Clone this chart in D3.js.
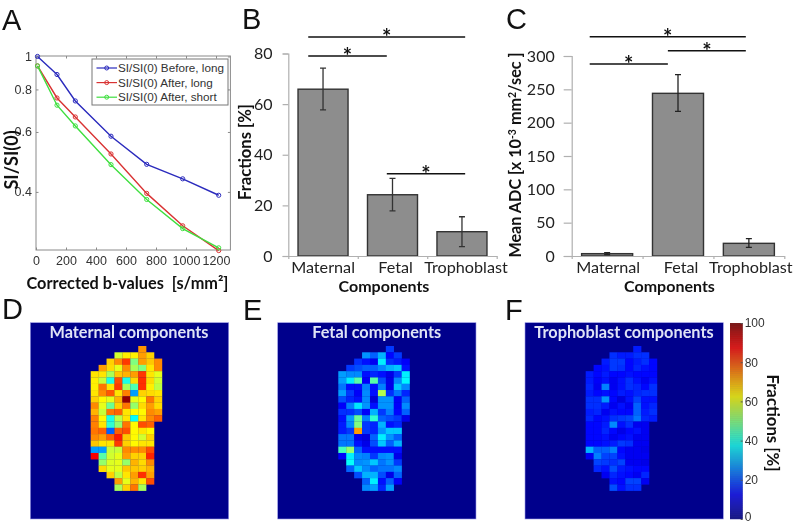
<!DOCTYPE html>
<html><head><meta charset="utf-8">
<script src="https://cdnjs.cloudflare.com/ajax/libs/d3/7.8.5/d3.min.js"></script>
<style>
html,body{margin:0;padding:0;background:#fff}
svg{display:block;filter:blur(0.35px)}
text{font-family:Lato,"Open Sans",sans-serif;white-space:pre}
.ar{font-family:"Liberation Sans",Arial,sans-serif}
</style></head><body><svg id="c" width="794" height="525"></svg>
<script>
// ---- Panel A
const bValues=[10,140,262,500,738,978,1218];
const lineNames=["SI/SI(0) Before, long","SI/SI(0) After, long","SI/SI(0) After, short"];
const siBefore=[1.0,0.885,0.74,0.583,0.482,0.437,0.391];
const siAfterLong=[0.938,0.755,0.664,0.517,0.396,0.318,0.269];
const siAfterShort=[0.938,0.719,0.625,0.481,0.38,0.312,0.274];
const xTicksA=[0,200,400,600,800,1000,1200];
const yTicksA=[0.4,0.6,0.8,1];
// ---- Panels B, C
const categories=["Maternal","Fetal","Trophoblast"];
const fractions=[65.9,24.2,9.6];
const fractionsLo=[57.7,17.8,3.7];
const fractionsHi=[74.2,30.7,15.5];
const adc=[3.5,244,19];
const adcLo=[2,217,13];
const adcHi=[5,272,26];
const sigB=[[0.287,2.546,86.5],[0.287,1.418,79],[1.418,2.546,32.5]];
const sigC=[[0.254,2.457,329],[1.357,2.457,308],[0.254,1.357,288]];
// ---- Panels D, E, F (rows of the mask; null = outside the placenta)
const _=null;
const maternal=[
[_,_,_,_,_,_,73,_,_],
[_,_,_,58,64,64,72,67,_],
[_,_,67,74,82,50,72,68,74],
[_,72,66,60,74,54,50,65,74],
[65,65,54,68,70,72,82,65,60],
[64,57,40,80,40,66,83,66,58],
[64,76,65,82,54,45,83,64,56],
[65,74,79,65,75,28,67,66,65],
[67,63,60,70,98,60,63,76,67],
[74,60,48,67,76,52,66,72,66],
[70,57,76,78,65,63,63,74,72],
[75,63,40,56,65,38,65,74,78],
[75,65,42,52,76,63,80,78,_],
[76,78,22,78,80,63,65,63,_],
[74,72,78,85,68,63,58,67,_],
[68,65,65,82,67,63,65,65,_],
[28,28,57,57,74,74,74,80,_],
[88,46,58,60,72,67,67,84,_],
[_,52,59,60,52,70,66,74,_],
[_,66,60,60,68,68,67,70,_],
[_,_,67,56,65,72,83,72,_],
[_,_,_,72,60,70,65,80,_],
[_,_,_,54,67,76,54,_,_]];
const fetal=[
[_,_,_,_,_,_,18,_,_],
[_,_,_,27,22,30,13,18,_],
[_,_,17,14,11,36,17,15,12],
[_,18,20,22,22,26,30,32,14],
[28,26,26,14,16,14,10,18,36],
[28,36,46,12,46,20,10,26,37],
[24,14,14,25,14,25,10,32,26],
[28,18,12,26,14,55,17,24,16],
[20,16,14,26,8,27,27,12,22],
[12,25,35,27,14,27,27,12,26],
[17,17,20,12,30,18,25,13,22],
[14,28,48,25,42,22,20,18,10],
[15,26,50,18,16,30,14,16,_],
[15,18,72,18,16,27,32,32,_],
[24,24,11,9,22,36,27,22,_],
[24,24,14,10,20,32,22,30,_],
[44,52,22,14,14,14,14,14,_],
[12,36,26,25,18,26,27,10,_],
[_,38,26,27,32,24,27,18,_],
[_,22,32,26,22,24,24,26,_],
[_,_,20,30,30,20,10,22,_],
[_,_,_,22,36,14,22,12,_],
[_,_,_,26,28,16,28,_,_]];
const trophoblast=[
[_,_,_,_,_,_,15,_,_],
[_,_,_,17,15,15,17,17,_],
[_,_,15,18,18,13,15,17,13],
[_,13,14,18,17,13,16,14,13],
[15,13,15,13,13,14,13,13,13],
[15,12,14,11,14,17,14,11,14],
[16,11,25,11,14,17,16,13,17],
[15,13,14,13,15,14,16,17,17],
[17,17,27,13,9,14,19,14,14],
[17,17,15,11,14,11,22,14,16],
[15,16,11,14,13,13,22,15,17],
[16,13,14,17,18,19,24,16,15],
[13,13,15,26,14,17,11,11,_],
[13,13,16,13,10,13,14,11,_],
[13,13,14,11,13,14,11,11,_],
[13,13,14,15,18,17,11,11,_],
[30,22,22,25,13,11,11,10,_],
[11,25,19,19,14,11,11,11,_],
[_,19,18,17,19,11,11,10,_],
[_,16,14,20,15,14,13,13,_],
[_,_,11,16,14,13,11,16,_],
[_,_,_,14,13,19,19,11,_],
[_,_,_,20,14,17,17,_,_]];
const colorbarTicks=[0,20,40,60,80,100];

const svg=d3.select("#c");
const jet=d3.scaleLinear().domain([0,12.5,37.5,62.5,87.5,100])
  .range(["#00008c","#0000ff","#00ffff","#ffff00","#ff0000","#800000"]).clamp(true);
const label=(t,x,y,o={})=>{const s=svg.append("text").attr("x",x).attr("y",y).text(t)
  .attr("font-size",o.size||15).attr("font-weight",o.weight||"bold").attr("fill",o.fill||"#111")
  .attr("text-anchor",o.anchor||"middle");
  if(o.rot!==undefined)s.attr("transform",`rotate(${o.rot} ${x} ${y})`);
  if(o.ar)s.classed("ar",true);return s;};

// panel letters
[["A",2,30],["B",242,29],["C",506,29],["D",2,319],["E",243,320],["F",505,320]]
 .forEach(d=>label(d[0],d[1],d[2],{size:29,weight:"normal",anchor:"start",ar:true}));

// ---------- A
const xA=d3.scaleLinear().domain([0,1296]).range([36,230.4]);
const yA=d3.scaleLog().domain([1.003,0.27]).range([56,250]);
const gA=svg.append("g");
gA.append("rect").attr("x",36).attr("y",56).attr("width",194.4).attr("height",194).attr("fill","none").attr("stroke","#8a8a8a");
const axA=(g,a)=>{g.call(a);g.select(".domain").remove();g.selectAll("line").attr("stroke","#8a8a8a");
  g.selectAll("text").attr("class","ar").attr("font-size",12.5).attr("fill","#333");};
gA.append("g").attr("transform","translate(0,250)").call(g=>axA(g,d3.axisBottom(xA).tickValues(xTicksA).tickSize(-2.5).tickPadding(6).tickFormat(d3.format("d"))));
gA.append("g").attr("transform","translate(36,0)").call(g=>axA(g,d3.axisLeft(yA).tickValues(yTicksA).tickSize(-2.5).tickPadding(4).tickFormat(d3.format("~g"))));
gA.append("g").attr("transform","translate(0,56)").call(g=>axA(g,d3.axisTop(xA).tickValues(xTicksA).tickSize(-2.5).tickFormat("")));
gA.append("g").attr("transform","translate(230.4,0)").call(g=>axA(g,d3.axisRight(yA).tickValues(yTicksA).tickSize(-2.5).tickFormat("")));
const series=[{v:siBefore,c:"#2b2bbd"},{v:siAfterLong,c:"#d93333"},{v:siAfterShort,c:"#3fdf3f"}];
const lineA=d3.line().x(d=>xA(d[0])).y(d=>yA(d[1]));
series.forEach(s=>{const pts=bValues.map((b,i)=>[b,s.v[i]]);
  gA.append("path").attr("d",lineA(pts)).attr("fill","none").attr("stroke",s.c).attr("stroke-width",1.4);
  gA.selectAll(null).data(pts).join("circle").attr("cx",d=>xA(d[0])).attr("cy",d=>yA(d[1])).attr("r",2.1)
    .attr("fill","none").attr("stroke",s.c).attr("stroke-width",1);});
// legend
const lg=gA.append("g");
lg.append("rect").attr("x",92).attr("y",59).attr("width",136).attr("height",46).attr("fill","#fff").attr("stroke","#777");
lineNames.forEach((n,i)=>{const y=68+i*14.6;
  lg.append("line").attr("x1",96.5).attr("x2",117).attr("y1",y).attr("y2",y).attr("stroke",series[i].c).attr("stroke-width",1.2);
  lg.append("circle").attr("cx",106.7).attr("cy",y).attr("r",2).attr("fill","none").attr("stroke",series[i].c);
  lg.append("text").attr("class","ar").attr("x",118).attr("y",y+4).attr("font-size",11.7).attr("fill","#333").text(n);});
label("SI/SI(0)",18,160,{size:18,rot:-90});
label("Corrected b-values  [s/mm²]",127.5,289,{size:16.3});

// ---------- B, C
function barPanel(x0,x1,y1,domainMax,ticks,vals,lo,hi,sig,dxs,ec,tick,pad){
  const g=svg.append("g");
  const x=d3.scaleBand().domain(categories).range([x0,x1]).paddingInner(0.28).paddingOuter(0.14);
  const xi=d3.scaleLinear().domain([0,3]).range([x0,x1]);
  const y=d3.scaleLinear().domain([0,domainMax]).range([256,y1]);
  g.selectAll("rect.b").data(categories).join("rect").attr("class","b")
    .attr("x",d=>x(d)).attr("width",x.bandwidth())
    .attr("y",(d,i)=>y(vals[i])).attr("height",(d,i)=>256-y(vals[i]))
    .attr("fill","#8d8d8d").attr("stroke","#333").attr("stroke-width",1.4);
  const style=s=>{s.selectAll("path,line").attr("stroke","#b0b0b0").attr("stroke-width",1.2);};
  g.append("g").attr("transform",`translate(${x0},0)`).call(d3.axisLeft(y).tickValues(ticks).tickSize(tick).tickPadding(pad))
    .call(style).call(s=>s.selectAll("text").attr("font-size",16).attr("fill","#222"));
  g.append("g").attr("transform","translate(0,256)").call(d3.axisBottom(xi).tickValues([0,1,2,3]).tickSize(3).tickFormat("").tickSizeOuter(0)).call(style);
  g.append("g").attr("transform","translate(0,256)").call(d3.axisBottom(x).tickSize(0).tickPadding(5))
    .call(s=>{s.select(".domain").remove();s.selectAll("text").attr("font-size",16.2).attr("fill","#222").attr("dx",(d,i)=>dxs[i]);});
  categories.forEach((c,i)=>{const cx=x(c)+x.bandwidth()/2;
    const e=d3.path();e.moveTo(cx,y(lo[i]));e.lineTo(cx,y(hi[i]));
    e.moveTo(cx-3,y(lo[i]));e.lineTo(cx+3,y(lo[i]));e.moveTo(cx-3,y(hi[i]));e.lineTo(cx+3,y(hi[i]));
    g.append("path").attr("d",e.toString()).attr("fill","none").attr("stroke",ec).attr("stroke-width",1.3);});
  sig.forEach(s=>{const px=d3.path();px.moveTo(xi(s[0]),y(s[2]));px.lineTo(xi(s[1]),y(s[2]));
    g.append("path").attr("d",px.toString()).attr("stroke","#111").attr("stroke-width",1.5).attr("fill","none");
    g.append("text").attr("x",(xi(s[0])+xi(s[1]))/2).attr("y",y(s[2])+8).attr("text-anchor","middle")
      .attr("font-size",22).attr("font-weight","bold").attr("fill","#111").text("*");});
}
barPanel(288.3,496.7,53.5,80,[0,20,40,60,80],fractions,fractionsLo,fractionsHi,sigB,[0,3,4],"#333",5.7,10);
barPanel(571.7,784.3,56,300,[0,50,100,150,200,250,300],adc,adcLo,adcHi,sigC,[1,3,2],"#222",8,9);
label("Fractions [%]",251,152,{size:16.6,rot:-90});
label("Components",384,292,{size:16});
label("Components",669.5,292,{size:16});
const mean=label("",521,155,{size:16.2,rot:-90});
[["Mean ADC [x 10",0],["-3",-5,10.5],[" mm",5,16.2],["2",-5,10.5],["/sec ]",5,16.2]].forEach(p=>
  mean.append("tspan").attr("dy",p[1]).attr("font-size",p[2]||16.2).text(p[0]));

// ---------- D, E, F
function heat(panelX0,panelX1,maskX0,title,titleX,m){
  const g=svg.append("g");
  g.append("rect").attr("x",panelX0).attr("y",322.7).attr("width",panelX1-panelX0).attr("height",196.3)
    .attr("fill",jet(0)).attr("stroke","#9a9ae6").attr("stroke-width",0.6);
  const x=d3.scaleBand().domain(d3.range(9)).range([maskX0,maskX0+71.3]);
  const y=d3.scaleBand().domain(d3.range(m.length)).range([346,490.7]);
  m.forEach((row,r)=>g.selectAll(null).data(row.map((v,c)=>({v,c})).filter(d=>d.v!==null)).join("rect")
    .attr("x",d=>x(d.c)).attr("y",y(r)).attr("width",x.bandwidth()+0.2).attr("height",y.bandwidth()+0.2)
    .attr("fill",d=>jet(d.v)));
  label(title,titleX,337.5,{size:16.3,fill:"#dfe3f6"});
}
heat(30.3,228.7,90.7,"Maternal components",129,maternal);
heat(277.7,476,338.3,"Fetal components",376.7,fetal);
heat(525,723.3,585.7,"Trophoblast components",624,trophoblast);

// colorbar
const yCb=d3.scaleLinear().domain([0,100]).range([519,323]);
const cb=svg.append("g");
cb.append("rect").attr("x",730).attr("y",323).attr("width",12.7).attr("height",196).attr("fill","#666");
cb.selectAll(null).data(d3.range(0,100,1)).join("rect").attr("x",730).attr("width",12.7)
  .attr("y",d=>yCb(d+1)).attr("height",d=>yCb(d)-yCb(d+1)+0.3).attr("fill",d=>jet(d+0.5)).attr("opacity",0.72);
cb.append("g").attr("transform","translate(742.7,0)").call(d3.axisRight(yCb).tickValues(colorbarTicks).tickSize(-2).tickPadding(2))
  .call(s=>{s.select(".domain").remove();s.selectAll("line").attr("stroke","#555");
    s.selectAll("text").attr("class","ar").attr("font-size",12).attr("fill","#333")
     .attr("dy",d=>d===0?"0.1em":"0.32em");});
label("Fractions [%]",767,423,{size:16.8,rot:90});
</script></body></html>
